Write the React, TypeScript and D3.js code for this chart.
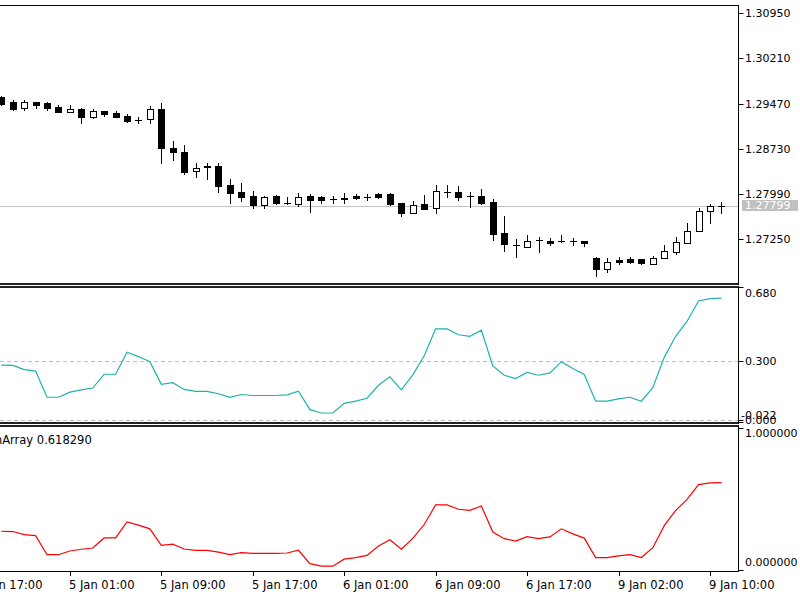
import React from "react";
import * as d3 from "d3";

const opens = [1.29577,1.295,1.29392,1.2949,1.29474,1.29408,1.29326,1.29376,1.29255,1.29348,1.2931,1.29266,1.29201,1.29217,1.29376,1.28748,1.28682,1.28367,1.28444,1.28448,1.28138,1.28018,1.27958,1.27811,1.27958,1.27839,1.27822,1.27958,1.27937,1.27904,1.2792,1.27958,1.27947,1.27986,1.27986,1.27839,1.27685,1.27822,1.27757,1.28028,1.28028,1.27958,1.27958,1.27865,1.27348,1.27162,1.27124,1.27239,1.27227,1.27227,1.27222,1.27222,1.26939,1.2676,1.26912,1.26923,1.26928,1.26846,1.26939,1.27047,1.27194,1.27386,1.27718,1.2779];
const highs = [1.29593,1.29528,1.29528,1.29495,1.295,1.29451,1.29451,1.29392,1.29376,1.29348,1.29353,1.29294,1.29245,1.29429,1.29474,1.28857,1.28792,1.28493,1.28493,1.28493,1.28231,1.28166,1.2804,1.27958,1.27974,1.27947,1.28002,1.27991,1.27958,1.27958,1.28002,1.27986,1.27986,1.28012,1.28002,1.27848,1.27881,1.27974,1.28138,1.28138,1.28121,1.28028,1.28068,1.27904,1.27631,1.2725,1.2732,1.27293,1.27266,1.2732,1.27266,1.27222,1.26966,1.26939,1.26966,1.26966,1.26936,1.26977,1.27157,1.27293,1.27512,1.27757,1.27822,1.27865];
const lows = [1.29446,1.29364,1.29364,1.29392,1.29364,1.29326,1.29326,1.29156,1.29228,1.29271,1.29255,1.29173,1.29147,1.29147,1.28502,1.28547,1.28313,1.28274,1.28231,1.28028,1.27848,1.27881,1.27757,1.27767,1.27822,1.27835,1.27794,1.27701,1.27839,1.27839,1.27839,1.27904,1.27893,1.2792,1.27811,1.27631,1.27685,1.2774,1.27685,1.27937,1.27893,1.27773,1.27822,1.27239,1.27059,1.26956,1.27119,1.27047,1.27157,1.27211,1.27157,1.2714,1.2665,1.2672,1.26846,1.26857,1.26854,1.26846,1.26939,1.2701,1.27194,1.27386,1.27521,1.27685];
const closes = [1.29462,1.2938,1.2949,1.29446,1.29392,1.29326,1.29376,1.29255,1.29348,1.29299,1.29255,1.29184,1.29196,1.29376,1.28738,1.28672,1.28355,1.28421,1.28427,1.28121,1.28012,1.27937,1.27811,1.27947,1.27839,1.27844,1.27947,1.27893,1.27893,1.27901,1.27917,1.2792,1.27944,1.27947,1.27822,1.27675,1.27811,1.27745,1.2804,1.28025,1.27937,1.27955,1.27839,1.27337,1.27173,1.27152,1.2723,1.27236,1.27185,1.27224,1.27219,1.27194,1.2676,1.26884,1.26884,1.26884,1.26858,1.26949,1.27059,1.27201,1.27386,1.27713,1.27794,1.27799];
const oscValues = [0.278,0.276,0.255,0.247,0.114,0.114,0.14,0.152,0.161,0.231,0.231,0.343,0.321,0.295,0.18,0.188,0.154,0.144,0.144,0.132,0.114,0.128,0.123,0.123,0.123,0.126,0.145,0.051,0.034,0.034,0.083,0.094,0.109,0.175,0.218,0.152,0.228,0.325,0.462,0.462,0.432,0.424,0.455,0.273,0.226,0.209,0.24,0.226,0.238,0.295,0.26,0.23,0.094,0.094,0.106,0.114,0.094,0.163,0.317,0.424,0.501,0.604,0.616,0.618];

const priceTicks = [1.3095, 1.3021, 1.2947, 1.2873, 1.2799, 1.2725];
const lastPrice = 1.27799;
const timeTickIndex = [-2, 6, 14, 22, 30, 38, 46, 54, 62];
const timeTickLabels = ["4 Jan 17:00", "5 Jan 01:00", "5 Jan 09:00", "5 Jan 17:00", "6 Jan 01:00", "6 Jan 09:00", "6 Jan 17:00", "9 Jan 02:00", "9 Jan 10:00"];
const oscLevels = [0.3, 0.0];
const oscMin = -0.022;
const oscMax = 0.68;
const indicatorLabel = "mArray 0.618290";

const FONT = "'DejaVu Sans', Verdana, sans-serif";

export default function App() {
  const W = 800, H = 600;
  const axisX = 738.5;
  const n = closes.length;
  const x = d3.scaleLinear().domain([0, n - 1]).range([1.3, 1.3 + (n - 1) * 11.43]);
  const yMain = d3.scaleLinear().domain([1.2725, 1.3095]).range([239.3, 13]);
  const yOsc = d3.scaleLinear().domain([oscMin, oscMax]).range([424, 286]);
  const yArr = d3.scaleLinear().domain([0, 1]).range([571, 428]);

  const oscLine = d3.line<number>().x((_, i) => x(i)).y((d) => yOsc(d));
  const arrLine = d3.line<number>().x((_, i) => x(i)).y((d) => yArr(d));

  const candles = closes.map((c, i) => {
    const o = opens[i];
    const cx = Math.round(x(i));
    const yH = Math.round(yMain(highs[i]));
    const yL = Math.round(yMain(lows[i]));
    const yT = Math.round(yMain(Math.max(o, c)));
    const yB = Math.round(yMain(Math.min(o, c)));
    const bull = c >= o;
    return (
      <g key={i}>
        <line x1={cx + 0.5} x2={cx + 0.5} y1={yH} y2={yL + 1} stroke="#000" strokeWidth={1} />
        {yB - yT < 1 ? (
          <line x1={cx - 3} x2={cx + 4} y1={yT + 0.5} y2={yT + 0.5} stroke="#000" strokeWidth={1} />
        ) : (
          <rect x={cx - 2.5} y={yT + 0.5} width={6} height={yB - yT} fill={bull ? "#fff" : "#000"} stroke="#000" strokeWidth={1} />
        )}
      </g>
    );
  });

  const lastY = Math.round(yMain(lastPrice)) + 0.5;

  return (
    <svg width={W} height={H} style={{ position: "absolute", left: 0, top: 0, display: "block", background: "#fff" }} fontFamily={FONT}>
      <defs>
        <clipPath id="cMain"><rect x={0} y={6} width={738} height={277} /></clipPath>
        <clipPath id="cOsc"><rect x={0} y={288} width={738} height={134} /></clipPath>
        <clipPath id="cArr"><rect x={0} y={427} width={738} height={143} /></clipPath>
      </defs>
      <rect x={0} y={0} width={W} height={H} fill="#fff" />

      {/* main panel */}
      <line x1={0} x2={axisX} y1={lastY} y2={lastY} stroke="#c0c0c0" strokeWidth={1} />
      <g clipPath="url(#cMain)">{candles}</g>

      {/* panel frames */}
      <line x1={0} x2={axisX + 0.5} y1={5.5} y2={5.5} stroke="#000" strokeWidth={1} />
      <line x1={0} x2={axisX + 0.5} y1={284} y2={284} stroke="#222" strokeWidth={2} />
      <line x1={0} x2={axisX + 0.5} y1={287} y2={287} stroke="#222" strokeWidth={2} />
      <line x1={0} x2={axisX + 0.5} y1={423} y2={423} stroke="#222" strokeWidth={2} />
      <line x1={0} x2={axisX + 0.5} y1={426} y2={426} stroke="#222" strokeWidth={2} />
      <line x1={0} x2={axisX + 0.5} y1={571.5} y2={571.5} stroke="#000" strokeWidth={1} />
      <line x1={axisX} x2={axisX} y1={5} y2={285} stroke="#000" strokeWidth={1} />
      <line x1={axisX} x2={axisX} y1={286} y2={424} stroke="#000" strokeWidth={1} />
      <line x1={axisX} x2={axisX} y1={425} y2={572} stroke="#000" strokeWidth={1} />

      {/* price axis */}
      {priceTicks.map((p) => {
        const yy = Math.round(yMain(p)) + 0.5;
        return (
          <g key={p}>
            <line x1={axisX} x2={axisX + 5} y1={yy} y2={yy} stroke="#000" />
            <text x={745} y={yy} dy="0.35em" fontSize={11} fill="#000">{p.toFixed(5)}</text>
          </g>
        );
      })}
      <rect x={742} y={200} width={56} height={11} fill="#c0c0c0" />
      <text x={745} y={205.5} dy="0.35em" fontSize={11} fill="#fff">{lastPrice.toFixed(5)}</text>

      {/* oscillator panel */}
      {oscLevels.map((lv) => (
        <line key={lv} x1={0} x2={axisX} y1={Math.round(yOsc(lv)) + 0.5} y2={Math.round(yOsc(lv)) + 0.5} stroke="#c0c0c0" strokeDasharray="4,3" />
      ))}
      <g clipPath="url(#cOsc)">
        <path d={oscLine(oscValues) || ""} fill="none" stroke="#20b2aa" strokeWidth={1.2} />
      </g>
      <line x1={axisX} x2={axisX + 5} y1={287.5} y2={287.5} stroke="#000" />
      <text x={745} y={293.5} dy="0.35em" fontSize={11}>{oscMax.toFixed(3)}</text>
      {oscLevels.map((lv) => {
        const yy = Math.round(yOsc(lv)) + 0.5;
        return (
          <g key={"t" + lv}>
            <line x1={axisX} x2={axisX + 5} y1={yy} y2={yy} stroke="#000" />
            <text x={745} y={yy} dy="0.35em" fontSize={11}>{lv.toFixed(3)}</text>
          </g>
        );
      })}
      <line x1={axisX} x2={axisX + 5} y1={422.5} y2={422.5} stroke="#000" />
      <text x={741} y={415.5} dy="0.35em" fontSize={11}>{oscMin.toFixed(3)}</text>

      {/* array panel */}
      <g clipPath="url(#cArr)">
        <path d={arrLine(oscValues) || ""} fill="none" stroke="#ff0000" strokeWidth={1.2} />
      </g>
      <text x={-9} y={444} fontSize={11.5}>{indicatorLabel}</text>
      <line x1={axisX} x2={axisX + 5} y1={428.5} y2={428.5} stroke="#000" />
      <text x={745} y={433.5} dy="0.35em" fontSize={11}>{(1).toFixed(6)}</text>
      <line x1={axisX} x2={axisX + 5} y1={570.5} y2={570.5} stroke="#000" />
      <text x={745} y={562} dy="0.35em" fontSize={11}>{(0).toFixed(6)}</text>

      {/* time axis */}
      {timeTickIndex.map((ti, k) => {
        const xx = Math.round(x(ti)) + 0.5;
        return (
          <g key={ti}>
            <line x1={xx} x2={xx} y1={571} y2={576} stroke="#000" />
            <text x={xx - 1.5} y={589} fontSize={11.5}>{timeTickLabels[k]}</text>
          </g>
        );
      })}
    </svg>
  );
}
